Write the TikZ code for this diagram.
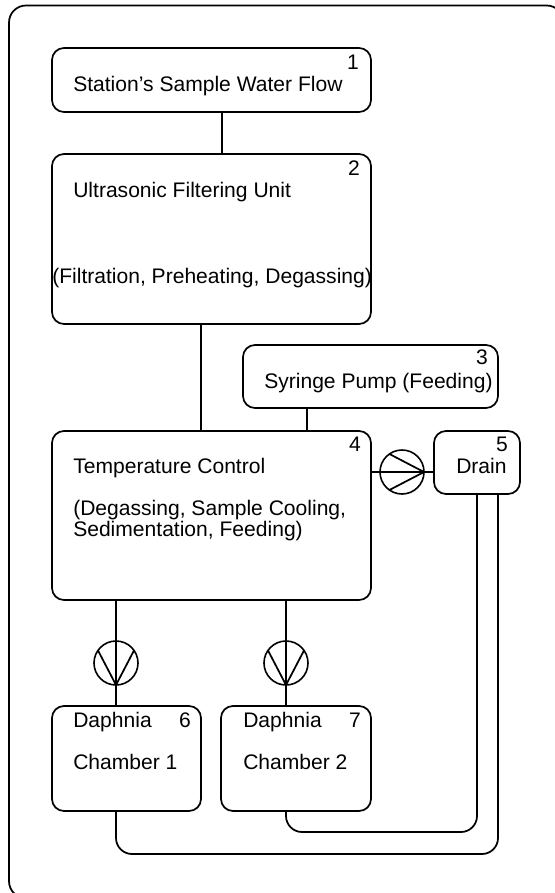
\documentclass[tikz,border=0pt]{standalone}
\usepackage{fontspec}
\setmainfont{Liberation Sans}
\usetikzlibrary{positioning,calc}
\tikzset{
    x=0.75pt,y=-0.75pt,
    unitbox/.style={draw,line width=1.3pt,rounded corners=9pt,anchor=north west,inner sep=0pt,outer sep=0pt},
    pumpcircle/.style={draw,circle,minimum size=33pt,inner sep=0pt,outer sep=0pt,line width=1.2pt},
    line/.style={line width=1.3pt},
    pipe/.style={line width=1.3pt,rounded corners=12pt},
    boxlabel/.style={font=\fontsize{15.8}{15.75}\selectfont,anchor=base west,align=left,inner sep=0pt},
    boxnum/.style={font=\fontsize{15.8}{15.75}\selectfont,anchor=base east,inner sep=0pt}
}
\begin{document}
\begin{tikzpicture}
    \useasboundingbox (0,0) rectangle (554,893);
    % Outer frame
    \node[unitbox,line width=1.3pt,rounded corners=12.75pt,minimum width=416pt,minimum height=669.5pt] (frame) at (9,5.5) {};

    % Units
    \node[unitbox,minimum width=239.25pt,minimum height=48pt] (flow) at (52,48) {};
    \node[unitbox,minimum width=239.25pt,minimum height=127.5pt] (filter) at (52,154) {};
    \node[unitbox,minimum width=191.25pt,minimum height=47.25pt] (syringe) at (243,345) {};
    \node[unitbox,minimum width=239.25pt,minimum height=126.75pt] (temp) at (52,431) {};
    \node[unitbox,minimum width=64.5pt,minimum height=47.25pt] (drain) at (434,431) {};
    \node[unitbox,minimum width=111.75pt,minimum height=78.75pt] (chamberA) at (52,706) {};
    \node[unitbox,minimum width=112.5pt,minimum height=78.75pt] (chamberB) at (221,706) {};

    % Pumps
    \node[pumpcircle] (pumpD) at (402,472) {};
    \node[pumpcircle] (pumpA) at (116,663) {};
    \node[pumpcircle] (pumpB) at (286,663) {};

    % Connectors
    \draw[line] (flow.south -| 222,0) -- (filter.north -| 222,0);
    \draw[line] (filter.south -| 201,0) -- (temp.north -| 201,0);
    \draw[line] (syringe.south -| 307,0) -- (temp.north -| 307,0);
    \draw[line] (temp.east |- pumpD) -- (drain.west |- pumpD);
    \draw[line] (temp.south -| pumpA) -- (chamberA.north -| pumpA);
    \draw[line] (temp.south -| pumpB) -- (chamberB.north -| pumpB);
    \draw[line] (pumpD.125) -- (pumpD.east) -- (pumpD.235);
    \draw[line] (pumpA.145) -- (pumpA.south) -- (pumpA.35);
    \draw[line] (pumpB.145) -- (pumpB.south) -- (pumpB.35);

    % Return lines
    \draw[pipe] (chamberB.south -| 286,0) -- (286,832) -- (477,832) -- (drain.south -| 477,0);
    \draw[pipe] (chamberA.south -| 116,0) -- (116,854) -- (498,854) -- (drain.south -| 498,0);

    % Labels
    \node[boxlabel] (flowtxt) at (73,91.5) {Station's Sample Water Flow};
    \node[boxnum] (flownum) at (359,69) {1};
    \node[boxlabel] (filtertxt) at (73,197) {Ultrasonic Filtering Unit};
    \node[boxlabel] (filtertxtb) at (52,283) {(Filtration, Preheating, Degassing)};
    \node[boxnum] (filternum) at (360,175) {2};
    \node[boxlabel] (syringetxt) at (264,388) {Syringe Pump (Feeding)};
    \node[boxnum] (syringenum) at (488,364) {3};
    \node[boxlabel] (temptxt) at (73,473) {Temperature Control};
    \node[boxlabel] (temptxtb) at (73,536.5) {(Degassing, Sample Cooling,\\Sedimentation, Feeding)};
    \node[boxnum] (tempnum) at (361,451) {4};
    \node[boxlabel] (draintxt) at (456,473) {Drain};
    \node[boxnum] (drainnum) at (508,451) {5};
    \node[boxlabel] (chamberAtxt) at (73,727) {Daphnia};
    \node[boxlabel] (chamberAtxtb) at (73,769) {Chamber 1};
    \node[boxnum] (chamberAnum) at (191,727) {6};
    \node[boxlabel] (chamberBtxt) at (243,727) {Daphnia};
    \node[boxlabel] (chamberBtxtb) at (243,769) {Chamber 2};
    \node[boxnum] (chamberBnum) at (361,727) {7};
\end{tikzpicture}
\end{document}
